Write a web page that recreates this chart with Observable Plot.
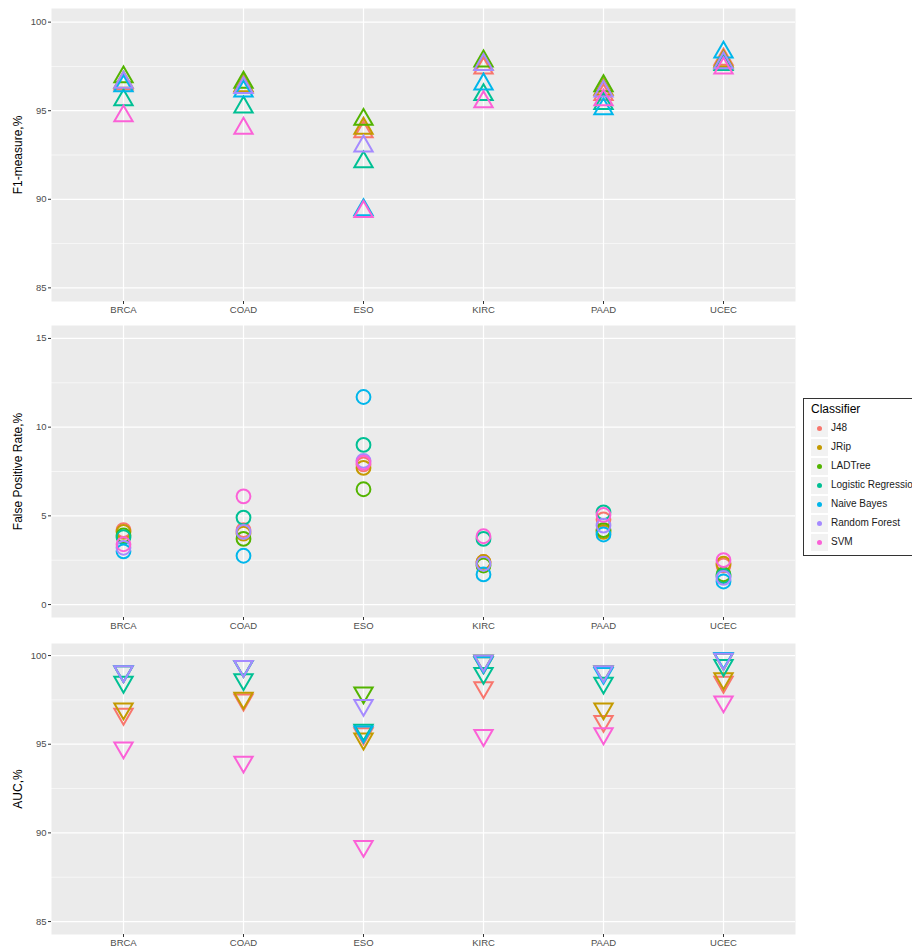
<!DOCTYPE html>
<html>
<head>
<meta charset="utf-8">
<script src="https://cdn.jsdelivr.net/npm/d3@7"></script>
<script src="https://cdn.jsdelivr.net/npm/@observablehq/plot@0.6"></script>
<style>
  html, body { margin: 0; padding: 0; background: white; overflow: hidden; }
  body { width: 912px; height: 950px; position: relative; font-family: "Liberation Sans", Arial, Helvetica, sans-serif; }
  #charts svg { display: block; }
  #legend { position: absolute; left: 803px; top: 398px; width: 130px; height: 158px; border: 1px solid #333; box-sizing: border-box; background: white; }
  #legend .title { position: absolute; left: 7px; top: 3px; font-size: 12px; color: #000; }
  #legend .item { position: absolute; left: 7px; height: 17px; width: 200px; }
  #legend .key { position: absolute; left: 0; top: 0; width: 17px; height: 17px; background: #F2F2F2; }
  #legend .dot { position: absolute; left: 6px; top: 6px; width: 5px; height: 5px; border-radius: 50%; }
  #legend .lab { position: absolute; left: 20px; top: 2px; font-size: 10px; color: #1a1a1a; white-space: nowrap; }
</style>
</head>
<body>
<div id="charts"></div>
<div id="legend"></div>
<script>
const cancers = ["BRCA", "COAD", "ESO", "KIRC", "PAAD", "UCEC"];
const classifiers = ["J48", "JRip", "LADTree", "Logistic Regression", "Naive Bayes", "Random Forest", "SVM"];
const colors = ["#F8766D", "#C49A00", "#53B400", "#00C094", "#00B6EB", "#A58AFF", "#FB61D7"];

// F1-measure, % (per classifier, in cancer order)
const f1_J48     = [96.5, 96.3, 93.8, 97.4, 95.9, 97.9];
const f1_JRip    = [96.6, 96.4, 94.0, 97.6, 96.2, 97.8];
const f1_LADTree = [96.9, 96.6, 94.5, 97.8, 96.4, 97.7];
const f1_LR      = [95.6, 95.2, 92.1, 95.9, 95.4, 97.6];
const f1_NB      = [96.4, 96.1, 89.4, 96.5, 95.1, 98.3];
const f1_RF      = [96.6, 96.3, 93.0, 97.6, 96.1, 97.7];
const f1_SVM     = [94.7, 94.0, 89.3, 95.5, 95.6, 97.4];

// False Positive Rate, %
const fpr_J48     = [4.2, 4.2, 7.9, 2.4, 4.8, 2.2];
const fpr_JRip    = [4.1, 4.0, 7.7, 2.4, 4.1, 2.3];
const fpr_LADTree = [3.9, 3.7, 6.5, 2.2, 4.2, 1.7];
const fpr_LR      = [3.8, 4.9, 9.0, 3.7, 5.2, 1.6];
const fpr_NB      = [3.0, 2.75, 11.7, 1.7, 3.95, 1.3];
const fpr_RF      = [3.2, 4.1, 8.1, 2.3, 4.45, 1.5];
const fpr_SVM     = [3.4, 6.1, 8.0, 3.85, 5.05, 2.5];

// AUC, %
const auc_J48     = [96.7, 97.5, 95.6, 98.2, 96.3, 98.5];
const auc_JRip    = [97.0, 97.6, 95.3, 99.6, 97.0, 98.7];
const auc_LADTree = [99.1, 99.4, 97.9, 99.7, 99.1, 99.8];
const auc_LR      = [98.5, 98.65, 95.8, 99.0, 98.45, 99.45];
const auc_NB      = [99.1, 99.4, 95.7, 99.6, 99.0, 99.85];
const auc_RF      = [99.1, 99.4, 97.2, 99.7, 99.1, 99.8];
const auc_SVM     = [94.8, 94.0, 89.25, 95.5, 95.6, 97.4];

const f1Ticks = [85, 90, 95, 100];
const fprTicks = [0, 5, 10, 15];
const aucTicks = [85, 90, 95, 100];

function toRows(series) {
  const out = [];
  series.forEach((vals, i) => vals.forEach((v, j) => out.push({cls: classifiers[i], cancer: cancers[j], value: v})));
  return out;
}

const triangleDown = {
  draw(ctx, size) {
    const y = -Math.sqrt(size / (Math.sqrt(3) * 3));
    ctx.moveTo(0, -y * 2);
    ctx.lineTo(-Math.sqrt(3) * y, y);
    ctx.lineTo(Math.sqrt(3) * y, y);
    ctx.closePath();
  }
};

const font = '"Liberation Sans", Arial, Helvetica, sans-serif';

function panel({data, domain, ticks, label, symbol, r, height, marginTop, marginBottom}) {
  const minor = ticks.slice(0, -1).map((t, i) => (t + ticks[i + 1]) / 2);
  return Plot.plot({
    width: 912, height, marginLeft: 51, marginRight: 117, marginTop, marginBottom,
    style: {fontFamily: font, fontSize: "9.5px", color: "#4d4d4d", background: "transparent", overflow: "visible"},
    x: {type: "point", domain: cancers, padding: 0.6, label: null},
    y: {domain, label: null},
    color: {domain: classifiers, range: colors},
    marks: [
      Plot.frame({fill: "#EBEBEB", stroke: null}),
      Plot.ruleY(minor, {stroke: "white", strokeWidth: 0.6}),
      Plot.ruleY(ticks, {stroke: "white", strokeWidth: 1.2}),
      Plot.ruleX(cancers, {stroke: "white", strokeWidth: 1.2}),
      Plot.axisX({tickSize: 3, tickPadding: 2, stroke: "#333", fill: "#4d4d4d", fontSize: 9.5, label: null}),
      Plot.axisY({ticks, tickSize: 3, tickPadding: 2, stroke: "#333", fill: "#4d4d4d", fontSize: 9.5, label: null}),
      Plot.dot(data, {x: "cancer", y: "value", stroke: "cls", fill: "none", symbol, r, strokeWidth: 2}),
      Plot.text([label], {frameAnchor: "left", dx: -33, rotate: -90, textAnchor: "middle", text: d => d, fontSize: 12, fill: "#000"})
    ]
  });
}

const charts = document.getElementById("charts");
charts.appendChild(panel({
  data: toRows([f1_J48, f1_JRip, f1_LADTree, f1_LR, f1_NB, f1_RF, f1_SVM]),
  domain: [84.23, 100.77], ticks: f1Ticks, label: "F1-measure,%",
  symbol: "triangle", r: 6.8, height: 318, marginTop: 8, marginBottom: 17
}));
charts.appendChild(panel({
  data: toRows([fpr_J48, fpr_JRip, fpr_LADTree, fpr_LR, fpr_NB, fpr_RF, fpr_SVM]),
  domain: [-0.73, 15.73], ticks: fprTicks, label: "False Positive Rate,%",
  symbol: "circle", r: 6.9, height: 316, marginTop: 7, marginBottom: 17
}));
charts.appendChild(panel({
  data: toRows([auc_J48, auc_JRip, auc_LADTree, auc_LR, auc_NB, auc_RF, auc_SVM]),
  domain: [84.27, 100.68], ticks: aucTicks, label: "AUC,%",
  symbol: triangleDown, r: 6.8, height: 316, marginTop: 9, marginBottom: 16
}));

const legend = document.getElementById("legend");
const t = document.createElement("div");
t.className = "title"; t.textContent = "Classifier";
legend.appendChild(t);
classifiers.forEach((c, i) => {
  const it = document.createElement("div");
  it.className = "item";
  it.style.top = (21 + i * 19) + "px";
  it.innerHTML = `<div class="key"><div class="dot" style="background:${colors[i]}"></div></div><div class="lab"></div>`;
  it.querySelector(".lab").textContent = c;
  legend.appendChild(it);
});
</script>
</body>
</html>
